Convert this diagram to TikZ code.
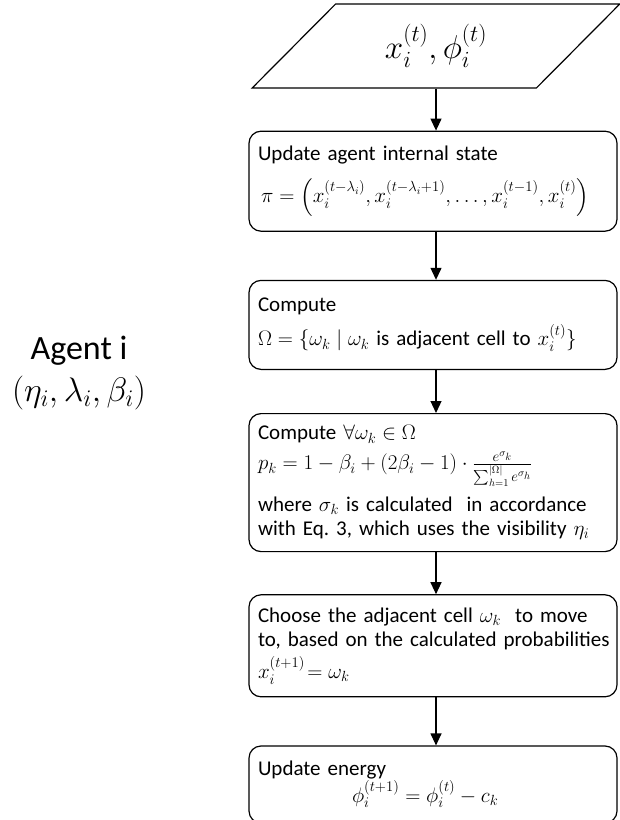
\RequirePackage{fix-cm}
\documentclass[tikz,border=0pt]{standalone}
\usepackage{amsmath,amssymb}
\usepackage{fontspec}
\setmainfont{Carlito}
\usepackage{tikz}
\usetikzlibrary{shapes.geometric,arrows.meta,positioning}
\tikzstyle{block} = [rectangle, draw, line width=1.2pt,
    text width=350pt, inner xsep=9pt, align=left, rounded corners=12pt,
    font=\fontsize{21}{24}\selectfont]
\tikzstyle{io} = [trapezium, draw, line width=1.2pt, trapezium stretches=true,
    trapezium left angle=48, trapezium right angle=132,
    minimum width=368pt, minimum height=84pt, font=\fontsize{33}{36}\selectfont]
\tikzstyle{arrow} = [line width=1.2pt, -{Triangle[length=12pt,width=11pt]}]

\begin{document}
\begin{tikzpicture}[x=1pt, y=1pt, node distance=45pt]
		\useasboundingbox (0,0) rectangle (620,820);
		% draw the text boxes first
		\node [io] (input) at (436,774) {$x_i^{(t)},\phi_i^{(t)}$};
		\node [block, below=42pt of input, xshift=-3pt, minimum height=100pt] (state) {Update agent internal state\\[14pt]
			\hspace*{3pt}$\pi=\left(x_i^{(t-\lambda_i)},x_i^{(t-\lambda_i+1)},\dots,x_i^{(t-1)},x_i^{(t)}\right)$\\[-10pt]\mbox{}};
		\node [block, below=48pt of state, minimum height=89pt] (neighbours) {Compute\\[8pt]
			$\Omega=\{\omega_k \mid \omega_k$ is adjacent cell to $x_i^{(t)}\}$};
		\node [block, below=43pt of neighbours, minimum height=138pt] (probs) {Compute $\forall\omega_k\in\Omega$\\[6pt]
			$p_k=1-\beta_i+(2\beta_i-1)\cdot\frac{e^{\sigma_k}}{\sum_{h=1}^{|\Omega|}e^{\sigma_h}}$\\[10pt]
			where $\sigma_k$ is calculated\ \ in accordance\\
			with Eq.~3, which uses the visibility $\eta_i$};
		\node [block, below=42pt of probs, minimum height=102pt] (choose) {Choose the adjacent cell $\omega_k$\ \ to move\\
			\mbox{to, based on the calculated probabilities}\\[6pt]
			$x_i^{(t+1)}\!=\omega_k$};
		\node [block, below=48pt of choose, minimum height=77pt] (energy) {Update energy\\
			\hspace*{94pt}$\phi_i^{(t+1)}=\phi_i^{(t)}-c_k$};
		\node [align=center, font=\fontsize{34}{42}\selectfont] (agent) at (79,447) {Agent i\\$(\eta_i,\lambda_i,\beta_i)$};

		% draw the edges connecting text boxes
		\draw [arrow] (input.south) -- (state.north -| input.south);
		\draw [arrow] (state.south -| input.south) -- (neighbours.north -| input.south);
		\draw [arrow] (neighbours.south -| input.south) -- (probs.north -| input.south);
		\draw [arrow] (probs.south -| input.south) -- (choose.north -| input.south);
		\draw [arrow] (choose.south -| input.south) -- (energy.north -| input.south);
	\end{tikzpicture}
\end{document}
